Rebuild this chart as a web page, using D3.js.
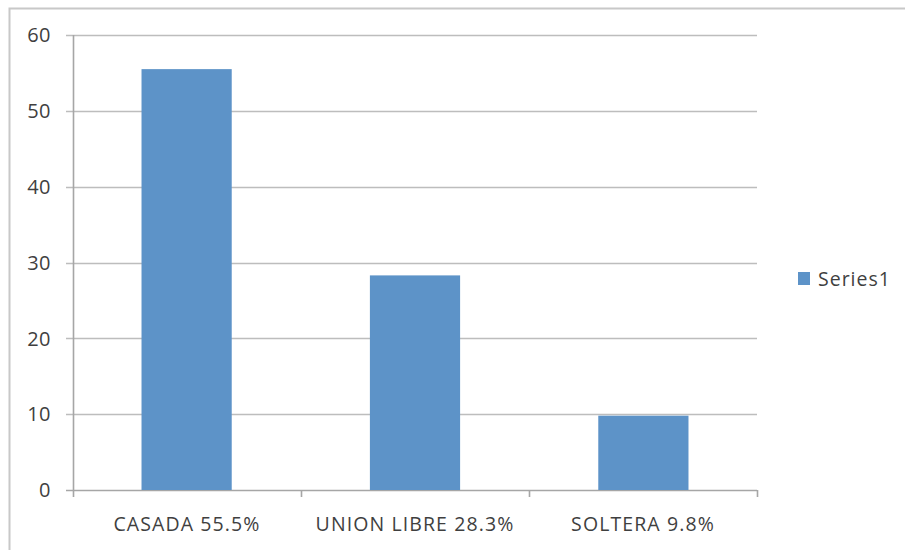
<!doctype html>
<html>
    <head>
        <script src="https://cdn.jsdelivr.net/npm/d3@7"></script>
        <style>
            html, body { margin: 0; padding: 0; background: #fff; }
            #viz { position: absolute; top: 0; left: 0; width: 905px; height: 550px; }
            text { font-family: "Open Sans", "Liberation Sans", sans-serif; fill: #3f3f3f; }
        </style>
    </head>
    <body>
        <div id="viz"></div>
        <script>
            var categories = ["CASADA 55.5%", "UNION LIBRE 28.3%", "SOLTERA 9.8%"];
            var values = [55.5, 28.3, 9.8];
            var yTicks = [0, 10, 20, 30, 40, 50, 60];
            var seriesName = "Series1";

            (function () {
                var w = 905, h = 550;
                var plotLeft = 73, plotRight = 757, plotTop = 35, plotBottom = 490;

                var svg = d3.select("#viz").append("svg")
                    .attr("width", w)
                    .attr("height", h);

                // outer chart frame
                svg.append("rect")
                    .attr("x", 9.5).attr("y", 8.5)
                    .attr("width", 920).attr("height", 560)
                    .attr("fill", "none")
                    .attr("stroke", "#c8c8c8")
                    .attr("stroke-width", 2);

                var x = d3.scaleBand()
                    .domain(categories)
                    .range([plotLeft, plotRight])
                    .paddingInner(0.605)
                    .paddingOuter(0.3);

                var xBounds = d3.scaleBand().domain(categories).range([plotLeft, plotRight]);

                var y = d3.scaleLinear()
                    .domain([0, 60])
                    .range([plotBottom, plotTop]);

                // gridlines
                svg.append("g")
                    .selectAll("line")
                    .data(yTicks)
                    .enter()
                    .append("line")
                        .attr("x1", plotLeft - 7)
                        .attr("x2", plotRight)
                        .attr("y1", function (d) { return Math.round(y(d)) + 0.5; })
                        .attr("y2", function (d) { return Math.round(y(d)) + 0.5; })
                        .attr("stroke", function (d) { return d === 0 ? "#a6a6a6" : "#bdbdbd"; })
                        .attr("stroke-width", 1.6);

                // y axis line
                svg.append("line")
                    .attr("x1", plotLeft + 0.5).attr("x2", plotLeft + 0.5)
                    .attr("y1", plotTop).attr("y2", plotBottom + 7)
                    .attr("stroke", "#a6a6a6")
                    .attr("stroke-width", 1.6);

                // y labels
                svg.append("g")
                    .selectAll("text")
                    .data(yTicks)
                    .enter()
                    .append("text")
                        .attr("x", 51)
                        .attr("y", function (d) { return y(d); })
                        .attr("dy", "0.36em")
                        .attr("text-anchor", "end")
                        .attr("font-size", 20)
                        .attr("letter-spacing", 0.5)
                        .text(function (d) { return d; });

                // category boundary ticks
                svg.append("g")
                    .selectAll("line")
                    .data(categories)
                    .enter()
                    .append("line")
                        .attr("x1", function (d) { return Math.round(xBounds(d) + xBounds.bandwidth()) + 0.5; })
                        .attr("x2", function (d) { return Math.round(xBounds(d) + xBounds.bandwidth()) + 0.5; })
                        .attr("y1", plotBottom)
                        .attr("y2", plotBottom + 7)
                        .attr("stroke", "#a6a6a6")
                        .attr("stroke-width", 1.6);

                // bars
                svg.append("g")
                    .selectAll("rect")
                    .data(values)
                    .enter()
                    .append("rect")
                        .attr("x", function (d, i) { return x(categories[i]); })
                        .attr("width", x.bandwidth())
                        .attr("y", function (d) { return y(d); })
                        .attr("height", function (d) { return plotBottom - y(d); })
                        .attr("fill", "#5d93c8");

                // x labels
                svg.append("g")
                    .selectAll("text")
                    .data(categories)
                    .enter()
                    .append("text")
                        .attr("x", function (d) { return xBounds(d) + xBounds.bandwidth() / 2; })
                        .attr("y", 531)
                        .attr("text-anchor", "middle")
                        .attr("font-size", 19.5)
                        .attr("letter-spacing", 1.1)
                        .text(function (d) { return d; });

                // legend
                svg.append("rect")
                    .attr("x", 798).attr("y", 272)
                    .attr("width", 12).attr("height", 13)
                    .attr("fill", "#5d93c8");

                svg.append("text")
                    .attr("x", 818)
                    .attr("y", 286)
                    .attr("font-size", 19.5)
                    .attr("letter-spacing", 1)
                    .text(seriesName);
            })();
        </script>
    </body>
</html>
